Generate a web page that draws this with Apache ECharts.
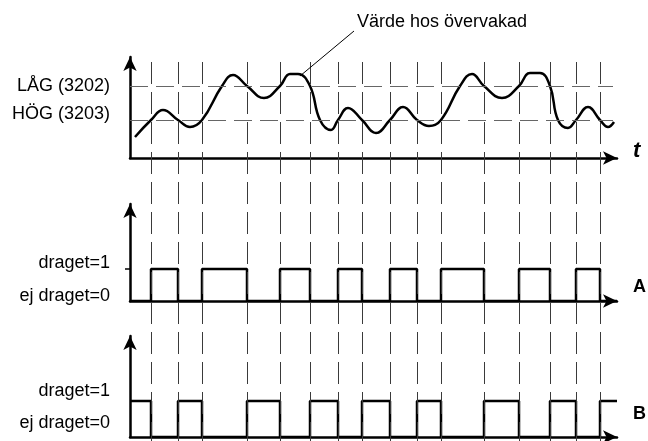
<!DOCTYPE html>
<html>
<head>
<meta charset="utf-8">
<script src="https://cdn.jsdelivr.net/npm/echarts@6/dist/echarts.min.js"></script>
<style>
  html, body { margin: 0; padding: 0; background: #fff; }
  #main { width: 648px; height: 441px; }
</style>
</head>
<body>
<div id="main"></div>
<script>
// tidpunkter där signalen passerar en gräns (gemensamma för alla tre diagram)
var crossT = [21, 48, 72, 117, 150, 180, 208, 232, 260, 287, 311, 354, 389, 420, 446, 470];

// övervakat värde
var curveT = [5, 21, 33, 48, 60, 72, 92, 103, 117, 134, 150, 160, 168, 180, 190, 201, 208, 218, 232, 246,
  260, 273, 287, 299, 311, 330, 342, 354, 372, 389, 400, 410, 420, 428, 438, 446, 458, 470, 478, 484];
var curveV = [21, 38, 48, 38, 31, 38, 72, 83, 72, 60, 72, 84, 84, 72, 38, 28, 38, 50, 38, 25,
  38, 51, 38, 32, 38, 72, 84, 72, 60, 72, 85, 85, 72, 38, 30, 38, 51, 38, 31, 36];

// gränser
var HOG = 38;
var LAG = 72;

// utsignaler A och B
var pulseT = [0, 21, 48, 72, 117, 150, 180, 208, 232, 260, 287, 311, 354, 389, 420, 446, 470, 487];
var pulseA = [0, 1, 0, 1, 0, 1, 0, 1, 0, 1, 0, 1, 0, 1, 0, 1, 0, 0];
var pulseB = [1, 0, 1, 0, 1, 0, 1, 0, 1, 0, 1, 0, 1, 0, 1, 0, 1, 1];

// hjälplinjer i helbildens höjdskala (0 = överkant)
var guideTop = 62;
var guideBottom = 441;
var pointerFrom = [170, 76];
var pointerTo = [224, 31];

var FONT = "'Liberation Sans', Arial, sans-serif";
var X_MAX = 487;

function zip(xs, ys) {
  return xs.map(function (x, i) { return [x, ys[i]]; });
}

var arrowLine = {
  show: true,
  symbol: ['none', 'arrow'],
  symbolSize: [10, 14],
  lineStyle: { color: '#000', width: 2.5 }
};

function xAxisFor(idx, name, lift) {
  var italic = name === 't';
  return {
    type: 'value', gridIndex: idx, min: 0, max: X_MAX,
    axisLine: arrowLine,
    axisTick: { show: false },
    axisLabel: { show: false },
    splitLine: { show: false },
    name: '{n|' + name + '}',
    nameLocation: 'end',
    nameGap: 16,
    nameTextStyle: {
      rich: {
        n: {
          color: '#000', fontFamily: FONT, fontSize: italic ? 22 : 18,
          fontWeight: 'bold', fontStyle: italic ? 'italic' : 'normal',
          padding: [0, 0, lift, 0]
        }
      }
    }
  };
}

function levelLabel(pad1, pad0) {
  return {
    customValues: [0, 1],
    margin: 20,
    formatter: function (v) { return v === 1 ? '{a|draget=1}' : '{b|ej draget=0}'; },
    rich: {
      a: { fontFamily: FONT, fontSize: 18, color: '#000', padding: [0, 0, pad1, 0] },
      b: { fontFamily: FONT, fontSize: 18, color: '#000', padding: [0, 0, pad0, 0] }
    }
  };
}

var chart = echarts.init(document.getElementById('main'), null, { renderer: 'canvas' });

var option = {
  animation: false,
  backgroundColor: '#fff',
  title: {
    text: 'Värde hos övervakad',
    left: 352, top: 8,
    textStyle: { fontFamily: FONT, fontSize: 18, fontWeight: 'normal', color: '#000' }
  },
  grid: [
    { left: 130, top: 57, width: X_MAX, height: 101, outerBoundsMode: 'none' },
    { left: 130, top: 204, width: X_MAX, height: 97, outerBoundsMode: 'none' },
    { left: 130, top: 336, width: X_MAX, height: 101, outerBoundsMode: 'none' },
    { left: 130, top: 0, width: X_MAX, height: 441, outerBoundsMode: 'none' }
  ],
  xAxis: [
    xAxisFor(0, 't', 14),
    xAxisFor(1, 'A', 28),
    xAxisFor(2, 'B', 46),
    { type: 'value', gridIndex: 3, min: 0, max: X_MAX, show: false }
  ],
  yAxis: [
    {
      type: 'value', gridIndex: 0, min: 0, max: 101,
      axisLine: arrowLine,
      axisTick: { show: false },
      splitLine: { show: false },
      axisLabel: {
        customValues: [HOG, LAG],
        margin: 20,
        formatter: function (v) { return v === LAG ? '{l|LÅG (3202)}' : '{h|HÖG (3203)}'; },
        rich: {
          l: { fontFamily: FONT, fontSize: 18, color: '#000', padding: [0, 0, 0, 0] },
          h: { fontFamily: FONT, fontSize: 18, color: '#000', padding: [0, 0, 12, 0] }
        }
      }
    },
    {
      type: 'value', gridIndex: 1, min: 0, max: 3.03,
      axisLine: arrowLine,
      axisTick: { show: true, customValues: [1], length: 5, lineStyle: { color: '#000', width: 1.5 } },
      splitLine: { show: false },
      axisLabel: levelLabel(12, 10)
    },
    {
      type: 'value', gridIndex: 2, min: 0, max: 2.806,
      axisLine: arrowLine,
      axisTick: { show: false },
      splitLine: { show: false },
      axisLabel: levelLabel(20, 28)
    },
    { type: 'value', gridIndex: 3, min: 0, max: 441, inverse: true, show: false }
  ],
  series: [
    {
      // streckade tidslinjer genom alla diagram
      type: 'line', xAxisIndex: 3, yAxisIndex: 3, z: 1,
      data: [[0, 0]], showSymbol: false, lineStyle: { width: 0 }, clip: false,
      markLine: {
        silent: true, symbol: 'none', label: { show: false },
        lineStyle: { color: '#3a3a3a', width: 1, type: [22, 8] },
        data: crossT.map(function (t) {
          return [{ coord: [t, guideTop] }, { coord: [t, guideBottom] }];
        })
      }
    },
    {
      // pekarlinje till kurvan
      type: 'line', xAxisIndex: 3, yAxisIndex: 3, z: 2,
      data: [[0, 0]], showSymbol: false, lineStyle: { width: 0 }, clip: false,
      markLine: {
        silent: true, symbol: 'none', label: { show: false },
        lineStyle: { color: '#000', width: 1, type: 'solid' },
        data: [[{ coord: pointerFrom }, { coord: pointerTo }]]
      }
    },
    {
      type: 'line', xAxisIndex: 0, yAxisIndex: 0, z: 3,
      data: zip(curveT, curveV),
      smooth: 0.45, showSymbol: false,
      lineStyle: { color: '#000', width: 2.5 },
      markLine: {
        silent: true, symbol: 'none', label: { show: false },
        lineStyle: { color: '#666', width: 1.2, type: [18, 8] },
        data: [
          [{ coord: [0, LAG] }, { coord: [483, LAG] }],
          [{ coord: [0, HOG] }, { coord: [483, HOG] }]
        ]
      }
    },
    {
      type: 'line', xAxisIndex: 1, yAxisIndex: 1, z: 3,
      data: zip(pulseT, pulseA), step: 'end', showSymbol: false,
      lineStyle: { color: '#000', width: 2.5 }
    },
    {
      type: 'line', xAxisIndex: 2, yAxisIndex: 2, z: 3,
      data: zip(pulseT, pulseB), step: 'end', showSymbol: false,
      lineStyle: { color: '#000', width: 2.5 }
    }
  ]
};

chart.setOption(option);
</script>
</body>
</html>
